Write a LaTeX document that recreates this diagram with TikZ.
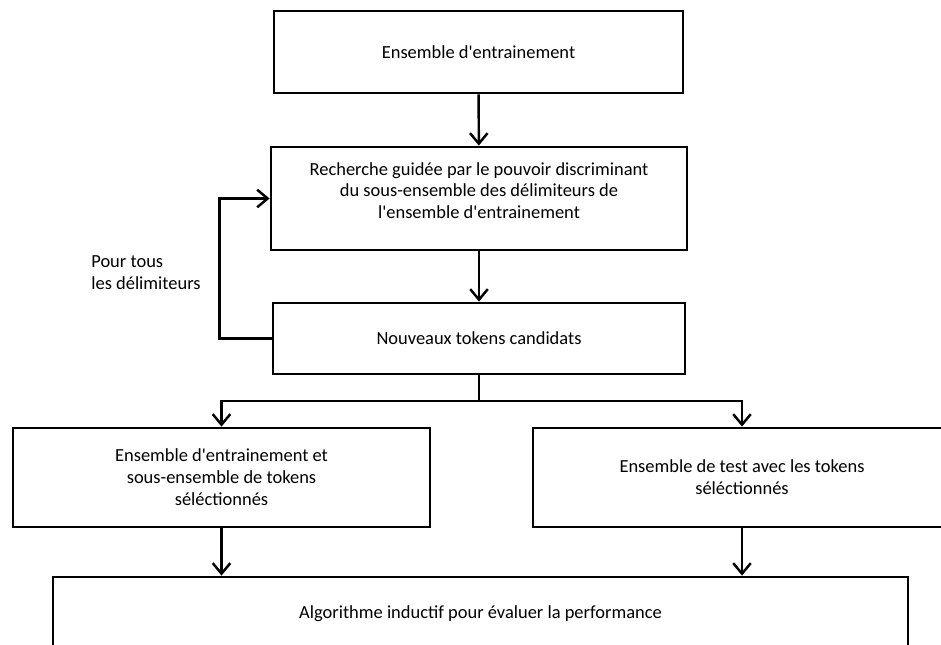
\documentclass[tikz,border=0pt]{standalone}
\usepackage{fontspec}
\setmainfont{Carlito}[Ligatures=TeXOff]
\usetikzlibrary{positioning}
\usetikzlibrary{arrows.meta}
\tikzstyle{etape}=[draw,line width=1.6pt,align=center,inner sep=0pt,font=\fontsize{10.5}{12.5}\selectfont]
\tikzstyle{legende}=[align=left,inner sep=0pt,font=\fontsize{10.5}{12.5}\selectfont]
\tikzstyle{edge} = [draw,line width=1.4pt,-{Straight Barb[length=6pt,width=10pt,line width=1.4pt]}]
\tikzstyle{undirectededge} = [draw,line width=1.4pt]

\begin{document}
\begin{tikzpicture}[x=0.02cm,y=-0.02cm]
  \useasboundingbox (0,0) rectangle (941,645);
  \clip (0,0) rectangle (941,645);

   \node[etape,minimum width=8.18cm,minimum height=1.64cm] (entrainement) at (478.5,52) {Ensemble d'entrainement};
   \node[etape,minimum width=8.32cm,minimum height=2.06cm,text depth=9pt] (recherche) at (479,198.5)
        {Recherche guidée par le pouvoir discriminant\\du sous-ensemble des délimiteurs de\\l'ensemble d'entrainement};
   \node[etape,minimum width=8.24cm,minimum height=1.42cm] (nouveaux) at (479,338.5) {Nouveaux tokens candidats};

   \node[etape,minimum width=8.34cm,minimum height=1.98cm] (gauche) at (221.5,477.5)
        {Ensemble d'entrainement et\\sous-ensemble de tokens\\séléctionnés};
   \node[etape,minimum width=8.36cm,minimum height=1.98cm] (droite) at (742,477.5)
        {Ensemble de test avec les tokens\\séléctionnés};
   \node[etape,minimum width=17.1cm,minimum height=1.46cm] (algo) at (480.5,613.5)
        {Algorithme inductif pour évaluer la performance};

   \node[legende,anchor=west] (pourtous) at (91,273) {Pour tous\\les délimiteurs};

    \foreach \source/\dest in {entrainement/recherche, recherche/nouveaux}
            \path[edge] (\source) -- (\dest);

    % boucle sur les delimiteurs
    \path[edge] (nouveaux.west) -- ++(-52,0) |- (recherche.west);

    \coordinate (split) at (nouveaux.south |- 0,401);
    \path[undirectededge] (nouveaux.south) -- (split);
    \foreach \dest in {gauche, droite}
            \path[edge] (split) -| (\dest.north);

    \foreach \source in {gauche, droite}
            \path[edge] (\source.south) -- (\source.south |- algo.north);

\end{tikzpicture}
\end{document}
